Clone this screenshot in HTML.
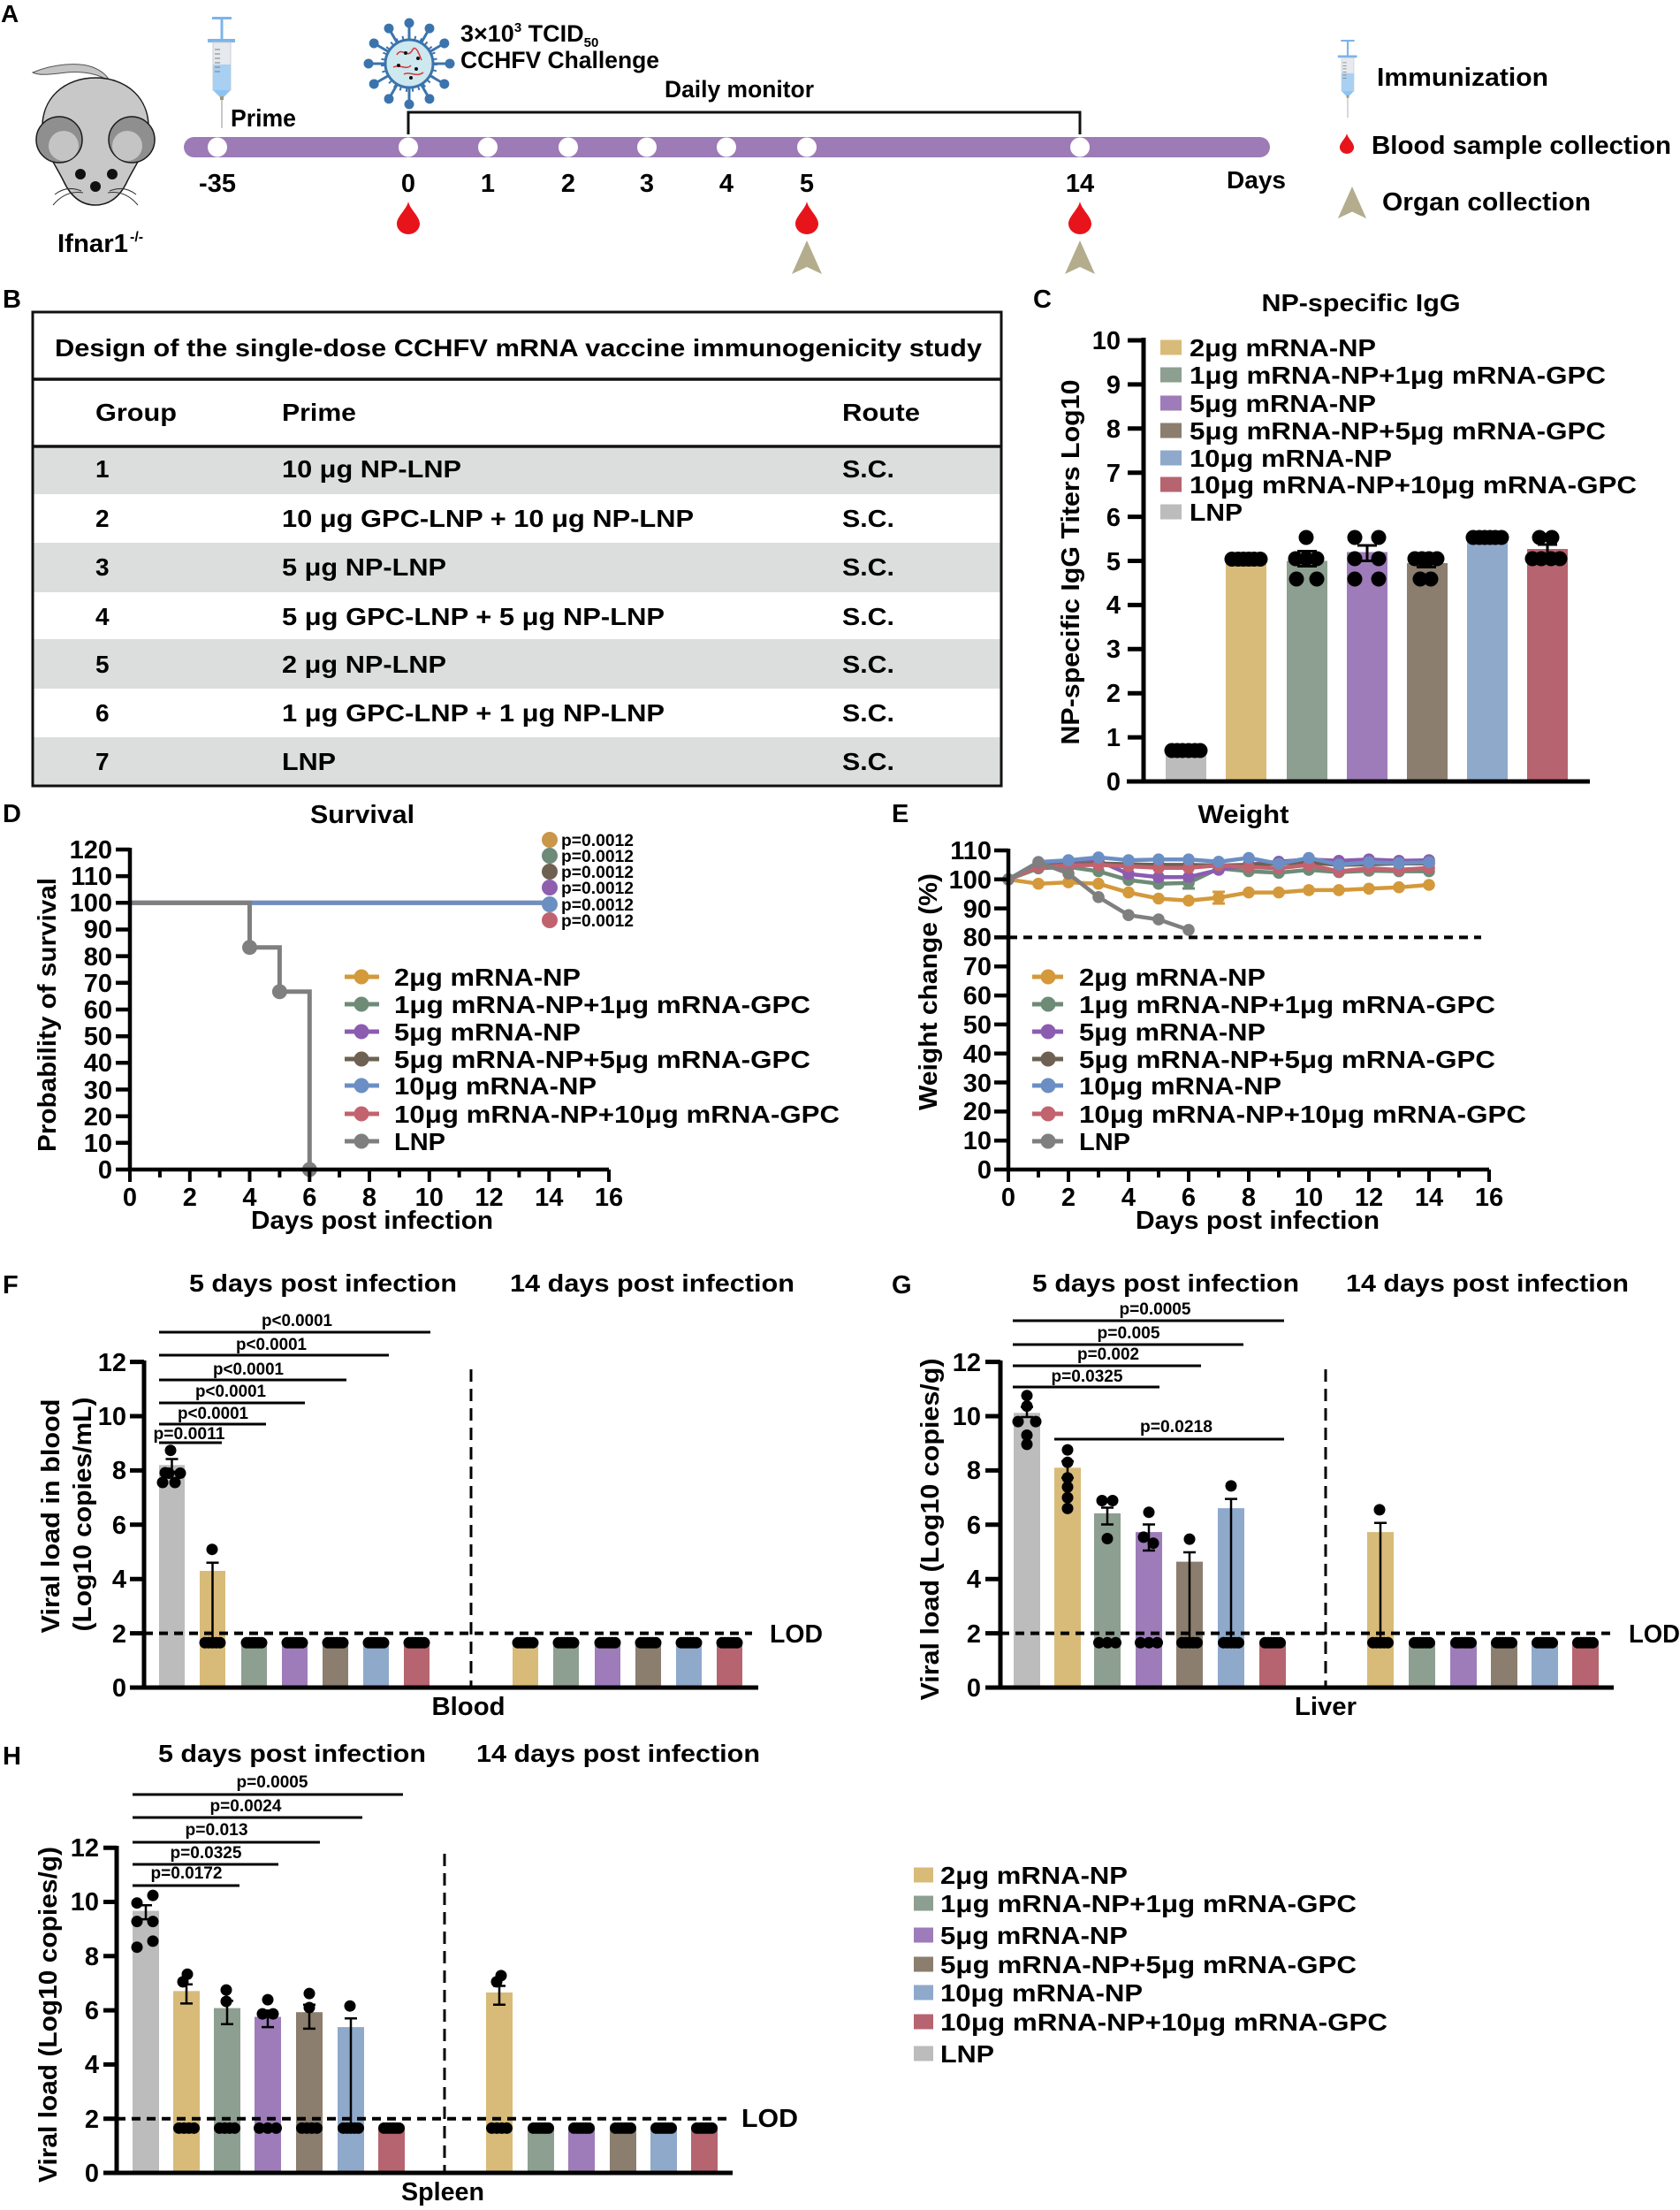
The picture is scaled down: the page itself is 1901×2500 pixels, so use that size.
<!DOCTYPE html>
<html><head><meta charset="utf-8">
<style>
html,body{margin:0;padding:0;background:#fff}
svg{display:block}
text{font-family:"Liberation Sans",Arial,sans-serif;font-weight:bold;fill:#000}
</style></head><body>
<svg width="1901" height="2500" viewBox="0 0 1901 2500" xmlns="http://www.w3.org/2000/svg">
<defs>
<g id="syr">
<rect x="240" y="19" width="22" height="3" fill="#7db4ea"/>
<rect x="249.5" y="21" width="3" height="24" fill="#7db4ea"/>
<rect x="235" y="44" width="31" height="4" fill="#7db4ea"/>
<rect x="241" y="48" width="20" height="54" fill="#e6e9ee" stroke="#c9ced6" stroke-width="1"/>
<rect x="241" y="73" width="20" height="29" fill="#a8d0f2"/>
<path d="M243 56H249M243 61H249M243 66H249M243 71H249M243 76H249M243 81H249" stroke="#7a7a7a" stroke-width="1"/>
<path d="M241 102 L261 102 L253 110 L249 110 Z" fill="#8fc3ef"/>
<rect x="249" y="109" width="4" height="4" fill="#9a9a7a"/>
<line x1="251" y1="113" x2="251" y2="145" stroke="#b5b5b5" stroke-width="1.5"/>
</g>
<g id="sp"><line x1="28" y1="0" x2="42" y2="0" stroke="#3b74ad" stroke-width="3"/><circle cx="46" cy="0" r="5.5" fill="#3b74ad"/></g>
<path id="drop" d="M0 0 C2 9 13 17 13 25 A13 12 0 0 1 -13 25 C-13 17 -2 9 0 0 Z" fill="#e8141b"/>
<path id="tri" d="M0 0 L17 38 L0 30 L-17 38 Z" fill="#b3ad8d"/>
<g id="d6"><circle cx="-8.5" r="6.5"/><circle cx="-5.1" r="6.5"/><circle cx="-1.7" r="6.5"/><circle cx="1.7" r="6.5"/><circle cx="5.1" r="6.5"/><circle cx="8.5" r="6.5"/></g>
<g id="d5"><circle cx="-8.5" r="6.5"/><circle cx="-4.25" r="6.5"/><circle cx="0" r="6.5"/><circle cx="4.25" r="6.5"/><circle cx="8.5" r="6.5"/></g>
<g id="d4"><circle cx="-8.5" r="6.5"/><circle cx="-2.8" r="6.5"/><circle cx="2.8" r="6.5"/><circle cx="8.5" r="6.5"/></g>
<g id="d3"><circle cx="-9.5" r="6.5"/><circle cx="0" r="6.5"/><circle cx="9.5" r="6.5"/></g>
<marker id="mgo" viewBox="-8 -8 16 16" markerWidth="16" markerHeight="16" markerUnits="userSpaceOnUse"><circle r="6.8" fill="#d4993a"/></marker>
<marker id="mgr" viewBox="-8 -8 16 16" markerWidth="16" markerHeight="16" markerUnits="userSpaceOnUse"><circle r="6.8" fill="#6e8b78"/></marker>
<marker id="mpu" viewBox="-8 -8 16 16" markerWidth="16" markerHeight="16" markerUnits="userSpaceOnUse"><circle r="6.8" fill="#8b5cb0"/></marker>
<marker id="mbr" viewBox="-8 -8 16 16" markerWidth="16" markerHeight="16" markerUnits="userSpaceOnUse"><circle r="6.8" fill="#6e6152"/></marker>
<marker id="mre" viewBox="-8 -8 16 16" markerWidth="16" markerHeight="16" markerUnits="userSpaceOnUse"><circle r="6.8" fill="#c2636f"/></marker>
<marker id="mbl" viewBox="-8 -8 16 16" markerWidth="16" markerHeight="16" markerUnits="userSpaceOnUse"><circle r="6.8" fill="#6b8fc4"/></marker>
<marker id="mgy" viewBox="-8 -8 16 16" markerWidth="16" markerHeight="16" markerUnits="userSpaceOnUse"><circle r="6.8" fill="#7f7f7f"/></marker>
</defs>
<rect width="1901" height="2500" fill="#fff"/>

<!-- ================= PANEL A ================= -->
<text x="1" y="25" font-size="28">A</text>
<!-- mouse -->
<path d="M37 82 C60 72 90 70 105 76 C115 80 122 86 124 92 C112 84 95 80 75 82 C58 84 45 86 37 82 Z" fill="#c4c4c4" stroke="#555" stroke-width="1"/>
<path d="M108 232 C92 232 80 222 72 205 C62 185 50 170 48 148 C46 110 74 88 108 88 C142 88 170 110 168 148 C166 170 154 185 144 205 C136 222 124 232 108 232 Z" fill="#c8c8c8" stroke="#1a1a1a" stroke-width="1.5"/>
<circle cx="67" cy="158" r="26" fill="#8f8f8f" stroke="#1a1a1a" stroke-width="1.5"/>
<circle cx="72" cy="165" r="17" fill="#c4c4c4"/>
<circle cx="149" cy="158" r="26" fill="#8f8f8f" stroke="#1a1a1a" stroke-width="1.5"/>
<circle cx="144" cy="165" r="17" fill="#c4c4c4"/>
<circle cx="91" cy="197" r="6" fill="#111"/><circle cx="127" cy="197" r="6" fill="#111"/>
<circle cx="108" cy="211" r="6" fill="#111"/>
<path d="M62 220 C72 212 82 212 92 216 M60 232 C70 220 82 216 94 218 M154 220 C144 212 134 212 124 216 M156 232 C146 220 134 216 122 218" fill="none" stroke="#333" stroke-width="1"/>
<text x="65" y="285" font-size="29" textLength="80" lengthAdjust="spacingAndGlyphs">Ifnar1</text>
<text x="147" y="273" font-size="16">-/-</text>
<!-- syringe prime -->
<use href="#syr"/>
<text x="261" y="143" font-size="28" textLength="74" lengthAdjust="spacingAndGlyphs">Prime</text>
<!-- virus -->
<g transform="translate(463 72)">
<use href="#sp"/><use href="#sp" transform="rotate(30)"/><use href="#sp" transform="rotate(60)"/><use href="#sp" transform="rotate(90)"/><use href="#sp" transform="rotate(120)"/><use href="#sp" transform="rotate(150)"/><use href="#sp" transform="rotate(180)"/><use href="#sp" transform="rotate(210)"/><use href="#sp" transform="rotate(240)"/><use href="#sp" transform="rotate(270)"/><use href="#sp" transform="rotate(300)"/><use href="#sp" transform="rotate(330)"/>
<circle r="30" fill="none" stroke="#3b74ad" stroke-width="4" stroke-dasharray="2 5"/>
<circle r="27" fill="#cde8ee" stroke="#3b74ad" stroke-width="3"/>
<path d="M-14 -10 C-8 -20 -2 -4 4 -16 C8 -22 12 -8 14 -4 M-18 4 C-10 0 -4 8 2 2 M-6 12 C0 8 8 16 16 10" fill="none" stroke="#d9323a" stroke-width="1.5"/>
<circle cx="-4" cy="-12" r="2" fill="#111"/><circle cx="10" cy="-6" r="2" fill="#111"/><circle cx="-12" cy="2" r="2" fill="#111"/><circle cx="8" cy="6" r="2" fill="#111"/><circle cx="2" cy="16" r="2" fill="#111"/>
</g>
<text x="521" y="47" font-size="27">3×10<tspan dy="-11" font-size="15">3</tspan><tspan dy="11"> TCID</tspan><tspan dy="6" font-size="15">50</tspan></text>
<text x="521" y="77" font-size="27" textLength="225" lengthAdjust="spacingAndGlyphs">CCHFV Challenge</text>
<text x="752" y="110" font-size="27" textLength="169" lengthAdjust="spacingAndGlyphs">Daily monitor</text>
<path d="M462 152 V127 H1222 V152" fill="none" stroke="#111" stroke-width="3"/>
<!-- timeline -->
<rect x="208" y="155" width="1229" height="23" rx="11.5" fill="#9d7bb6"/>
<g fill="#fff"><circle cx="246" cy="166.5" r="11"/><circle cx="462" cy="166.5" r="11"/><circle cx="552" cy="166.5" r="11"/><circle cx="643" cy="166.5" r="11"/><circle cx="732" cy="166.5" r="11"/><circle cx="822" cy="166.5" r="11"/><circle cx="913" cy="166.5" r="11"/><circle cx="1222" cy="166.5" r="11"/></g>
<g font-size="29" text-anchor="middle">
<text x="246" y="217">-35</text><text x="462" y="217">0</text><text x="552" y="217">1</text><text x="643" y="217">2</text><text x="732" y="217">3</text><text x="822" y="217">4</text><text x="913" y="217">5</text><text x="1222" y="217">14</text>
</g>
<text x="1388" y="213" font-size="28" textLength="67" lengthAdjust="spacingAndGlyphs">Days</text>
<use href="#drop" transform="translate(462 228)"/>
<use href="#drop" transform="translate(913 228)"/>
<use href="#drop" transform="translate(1222 228)"/>
<use href="#tri" transform="translate(913 272)"/>
<use href="#tri" transform="translate(1222 272)"/>
<!-- legend A -->
<use href="#syr" transform="translate(1525 45) scale(0.7) translate(-251 -19)"/>
<text x="1558" y="97" font-size="29" textLength="194" lengthAdjust="spacingAndGlyphs">Immunization</text>
<use href="#drop" transform="translate(1524 151) scale(0.62)"/>
<text x="1552" y="174" font-size="29" textLength="339" lengthAdjust="spacingAndGlyphs">Blood sample collection</text>
<use href="#tri" transform="translate(1530 211) scale(0.95)"/>
<text x="1564" y="238" font-size="29" textLength="236" lengthAdjust="spacingAndGlyphs">Organ collection</text>

<!-- ================= PANEL B ================= -->
<text x="3" y="348" font-size="29">B</text>
<rect x="38" y="507" width="1094" height="52" fill="#dcdddd"/>
<rect x="38" y="614" width="1094" height="56" fill="#dcdddd"/>
<rect x="38" y="723" width="1094" height="56" fill="#dcdddd"/>
<rect x="38" y="834" width="1094" height="54" fill="#dcdddd"/>
<rect x="37" y="353" width="1096" height="536" fill="none" stroke="#111" stroke-width="3"/>
<line x1="37" y1="429" x2="1133" y2="429" stroke="#111" stroke-width="3.5"/>
<line x1="37" y1="505" x2="1133" y2="505" stroke="#111" stroke-width="3.5"/>
<g font-size="28">
<text x="62" y="403" textLength="1049" lengthAdjust="spacingAndGlyphs">Design of the single-dose CCHFV mRNA vaccine immunogenicity study</text>
<text x="108" y="476" textLength="92" lengthAdjust="spacingAndGlyphs">Group</text>
<text x="319" y="476" textLength="84" lengthAdjust="spacingAndGlyphs">Prime</text>
<text x="953" y="476" textLength="88" lengthAdjust="spacingAndGlyphs">Route</text>
<text x="108" y="540">1</text><text x="319" y="540" textLength="203" lengthAdjust="spacingAndGlyphs">10 μg NP-LNP</text><text x="953" y="540" textLength="59" lengthAdjust="spacingAndGlyphs">S.C.</text>
<text x="108" y="596">2</text><text x="319" y="596" textLength="466" lengthAdjust="spacingAndGlyphs">10 μg GPC-LNP + 10 μg NP-LNP</text><text x="953" y="596" textLength="59" lengthAdjust="spacingAndGlyphs">S.C.</text>
<text x="108" y="651">3</text><text x="319" y="651" textLength="186" lengthAdjust="spacingAndGlyphs">5 μg NP-LNP</text><text x="953" y="651" textLength="59" lengthAdjust="spacingAndGlyphs">S.C.</text>
<text x="108" y="707">4</text><text x="319" y="707" textLength="433" lengthAdjust="spacingAndGlyphs">5 μg GPC-LNP + 5 μg NP-LNP</text><text x="953" y="707" textLength="59" lengthAdjust="spacingAndGlyphs">S.C.</text>
<text x="108" y="761">5</text><text x="319" y="761" textLength="186" lengthAdjust="spacingAndGlyphs">2 μg NP-LNP</text><text x="953" y="761" textLength="59" lengthAdjust="spacingAndGlyphs">S.C.</text>
<text x="108" y="816">6</text><text x="319" y="816" textLength="433" lengthAdjust="spacingAndGlyphs">1 μg GPC-LNP + 1 μg NP-LNP</text><text x="953" y="816" textLength="59" lengthAdjust="spacingAndGlyphs">S.C.</text>
<text x="108" y="871">7</text><text x="319" y="871" textLength="61" lengthAdjust="spacingAndGlyphs">LNP</text><text x="953" y="871" textLength="59" lengthAdjust="spacingAndGlyphs">S.C.</text>
</g>

<!-- ================= PANEL C ================= -->
<text x="1169" y="348" font-size="29">C</text>
<text x="1540" y="352" font-size="28" text-anchor="middle" textLength="225" lengthAdjust="spacingAndGlyphs">NP-specific IgG</text>
<text transform="translate(1221 636) rotate(-90)" font-size="29" text-anchor="middle" textLength="413" lengthAdjust="spacingAndGlyphs">NP-specific IgG Titers Log10</text>
<!-- bars -->
<rect x="1319" y="851.1" width="46" height="32.9" fill="#bcbcbc"/>
<rect x="1387" y="632.5" width="46" height="251.5" fill="#d8bb79"/>
<rect x="1456" y="634.5" width="46" height="249.5" fill="#8d9f90"/>
<rect x="1524" y="624.5" width="46" height="259.5" fill="#9e7cb9"/>
<rect x="1592" y="637" width="46" height="247" fill="#8b7e6e"/>
<rect x="1660" y="609.5" width="46" height="274.5" fill="#8fa9cb"/>
<rect x="1728" y="621" width="46" height="263" fill="#b6646f"/>
<path d="M1468 623.5H1490M1479 623.5V640.5M1468 640.5H1490 M1536 617H1558M1547 617V634.5M1536 634.5H1558 M1603 637H1625M1614 637V641.5M1603 641.5H1625 M1740 616H1762M1751 616V626" stroke="#000" stroke-width="3" fill="none"/>
<g fill="#000">
<circle cx="1326" cy="849" r="8.5"/><circle cx="1332" cy="849" r="8.5"/><circle cx="1338" cy="849" r="8.5"/><circle cx="1345" cy="849" r="8.5"/><circle cx="1352" cy="849" r="8.5"/><circle cx="1358" cy="849" r="8.5"/>
<circle cx="1394" cy="632.5" r="8.5"/><circle cx="1401" cy="632.5" r="8.5"/><circle cx="1407" cy="632.5" r="8.5"/><circle cx="1413" cy="632.5" r="8.5"/><circle cx="1419" cy="632.5" r="8.5"/><circle cx="1426" cy="632.5" r="8.5"/>
<circle cx="1478" cy="608" r="8.5"/><circle cx="1466" cy="632" r="8.5"/><circle cx="1478" cy="632" r="8.5"/><circle cx="1490" cy="632" r="8.5"/><circle cx="1467" cy="655" r="8.5"/><circle cx="1490" cy="655" r="8.5"/>
<circle cx="1533" cy="608" r="8.5"/><circle cx="1560" cy="608" r="8.5"/><circle cx="1533" cy="632" r="8.5"/><circle cx="1560" cy="632" r="8.5"/><circle cx="1533" cy="655" r="8.5"/><circle cx="1560" cy="655" r="8.5"/>
<circle cx="1601" cy="632" r="8.5"/><circle cx="1609" cy="632" r="8.5"/><circle cx="1617" cy="632" r="8.5"/><circle cx="1626" cy="632" r="8.5"/><circle cx="1607" cy="655" r="8.5"/><circle cx="1619" cy="655" r="8.5"/>
<circle cx="1667" cy="608" r="8.5"/><circle cx="1674" cy="608" r="8.5"/><circle cx="1680" cy="608" r="8.5"/><circle cx="1686" cy="608" r="8.5"/><circle cx="1692" cy="608" r="8.5"/><circle cx="1699" cy="608" r="8.5"/>
<circle cx="1742" cy="608" r="8.5"/><circle cx="1756" cy="608" r="8.5"/><circle cx="1734" cy="632" r="8.5"/><circle cx="1744" cy="632" r="8.5"/><circle cx="1755" cy="632" r="8.5"/><circle cx="1765" cy="632" r="8.5"/>
</g>
<!-- axes C -->
<path d="M1294 382V886 M1275 884H1799 M1276 884H1294M1276 834.1H1294M1276 784.2H1294M1276 734.3H1294M1276 684.4H1294M1276 634.5H1294M1276 584.6H1294M1276 534.7H1294M1276 484.8H1294M1276 434.9H1294M1276 385H1294" stroke="#000" stroke-width="5" fill="none"/>
<g font-size="29" text-anchor="end">
<text x="1268" y="894">0</text><text x="1268" y="844">1</text><text x="1268" y="794">2</text><text x="1268" y="744">3</text><text x="1268" y="694">4</text><text x="1268" y="645">5</text><text x="1268" y="595">6</text><text x="1268" y="545">7</text><text x="1268" y="495">8</text><text x="1268" y="445">9</text><text x="1268" y="395">10</text>
</g>
<!-- legend C -->
<rect x="1313" y="384.5" width="24" height="17" fill="#d8bb79"/>
<rect x="1313" y="415.5" width="24" height="17" fill="#8d9f90"/>
<rect x="1313" y="447.5" width="24" height="17" fill="#9e7cb9"/>
<rect x="1313" y="478.5" width="24" height="17" fill="#8b7e6e"/>
<rect x="1313" y="509.5" width="24" height="17" fill="#8fa9cb"/>
<rect x="1313" y="539.5" width="24" height="17" fill="#b6646f"/>
<rect x="1313" y="570.5" width="24" height="17" fill="#bcbcbc"/>
<g font-size="28">
<text x="1346" y="403" textLength="211" lengthAdjust="spacingAndGlyphs">2μg mRNA-NP</text>
<text x="1346" y="434" textLength="471" lengthAdjust="spacingAndGlyphs">1μg mRNA-NP+1μg mRNA-GPC</text>
<text x="1346" y="466" textLength="211" lengthAdjust="spacingAndGlyphs">5μg mRNA-NP</text>
<text x="1346" y="497" textLength="471" lengthAdjust="spacingAndGlyphs">5μg mRNA-NP+5μg mRNA-GPC</text>
<text x="1346" y="528" textLength="229" lengthAdjust="spacingAndGlyphs">10μg mRNA-NP</text>
<text x="1346" y="558" textLength="506" lengthAdjust="spacingAndGlyphs">10μg mRNA-NP+10μg mRNA-GPC</text>
<text x="1346" y="589" textLength="60" lengthAdjust="spacingAndGlyphs">LNP</text>
</g>

<!-- ================= PANEL D ================= -->
<text x="3" y="930" font-size="29">D</text>
<text x="410" y="931" font-size="29" text-anchor="middle" textLength="118" lengthAdjust="spacingAndGlyphs">Survival</text>
<text transform="translate(63 1148) rotate(-90)" font-size="29" text-anchor="middle" textLength="310" lengthAdjust="spacingAndGlyphs">Probability of survival</text>
<path d="M147 1021.3H621.3" stroke="#c2636f" stroke-width="5"/>
<path d="M147 1021.3H621.3" stroke="#6b8fc4" stroke-width="5"/>
<path d="M147 1021.3H282.5V1071.7H316.4V1121.8H350.3V1323" stroke="#7f7f7f" stroke-width="5" fill="none"/>
<g fill="#7f7f7f"><circle cx="282.5" cy="1071.7" r="8.5"/><circle cx="316.4" cy="1121.8" r="8.5"/><circle cx="350.3" cy="1323" r="8.5"/></g>
<circle cx="622" cy="950" r="9" fill="#c9964a"/>
<circle cx="622" cy="968" r="9" fill="#6e8a78"/>
<circle cx="622" cy="986" r="9" fill="#6e6152"/>
<circle cx="622" cy="1004" r="9" fill="#8d5fad"/>
<circle cx="622" cy="1023" r="9" fill="#6b8fc0"/>
<circle cx="622" cy="1041" r="9" fill="#c0636f"/>
<g font-size="19">
<text x="635" y="957" textLength="82" lengthAdjust="spacingAndGlyphs">p=0.0012</text>
<text x="635" y="975" textLength="82" lengthAdjust="spacingAndGlyphs">p=0.0012</text>
<text x="635" y="993" textLength="82" lengthAdjust="spacingAndGlyphs">p=0.0012</text>
<text x="635" y="1011" textLength="82" lengthAdjust="spacingAndGlyphs">p=0.0012</text>
<text x="635" y="1030" textLength="82" lengthAdjust="spacingAndGlyphs">p=0.0012</text>
<text x="635" y="1048" textLength="82" lengthAdjust="spacingAndGlyphs">p=0.0012</text>
</g>
<!-- axes D -->
<path d="M147 959V1325 M145 1323H689 M131 1323H147M131 1292.8H147M131 1262.7H147M131 1232.5H147M131 1202.3H147M131 1172.2H147M131 1142H147M131 1111.8H147M131 1081.6H147M131 1051.5H147M131 1021.3H147M131 991.1H147M131 961H147" stroke="#000" stroke-width="4.5" fill="none"/>
<path d="M147 1323V1337M214.8 1323V1337M282.5 1323V1337M350.3 1323V1337M418 1323V1337M485.8 1323V1337M553.5 1323V1337M621.3 1323V1337M689 1323V1337 M180.9 1323V1332M248.6 1323V1332M316.4 1323V1332M384.1 1323V1332M451.9 1323V1332M519.6 1323V1332M587.4 1323V1332M655.1 1323V1332" stroke="#000" stroke-width="4" fill="none"/>
<g font-size="29" text-anchor="end">
<text x="127" y="1333">0</text><text x="127" y="1303">10</text><text x="127" y="1273">20</text><text x="127" y="1243">30</text><text x="127" y="1212">40</text><text x="127" y="1182">50</text><text x="127" y="1152">60</text><text x="127" y="1122">70</text><text x="127" y="1092">80</text><text x="127" y="1061">90</text><text x="127" y="1031">100</text><text x="127" y="1001">110</text><text x="127" y="971">120</text>
</g>
<g font-size="29" text-anchor="middle">
<text x="147" y="1364">0</text><text x="214.8" y="1364">2</text><text x="282.5" y="1364">4</text><text x="350.3" y="1364">6</text><text x="418" y="1364">8</text><text x="485.8" y="1364">10</text><text x="553.5" y="1364">12</text><text x="621.3" y="1364">14</text><text x="689" y="1364">16</text>
</g>
<text x="421" y="1390" font-size="29" text-anchor="middle" textLength="274" lengthAdjust="spacingAndGlyphs">Days post infection</text>
<!-- legend D -->
<g stroke-width="5">
<line x1="390" y1="1105" x2="429" y2="1105" stroke="#d4993a"/><line x1="390" y1="1136" x2="429" y2="1136" stroke="#6e8b78"/><line x1="390" y1="1167" x2="429" y2="1167" stroke="#8b5cb0"/><line x1="390" y1="1198" x2="429" y2="1198" stroke="#6e6152"/><line x1="390" y1="1228" x2="429" y2="1228" stroke="#6b8fc4"/><line x1="390" y1="1260" x2="429" y2="1260" stroke="#c2636f"/><line x1="390" y1="1291" x2="429" y2="1291" stroke="#7f7f7f"/>
</g>
<circle cx="409" cy="1105" r="8.5" fill="#d4993a"/><circle cx="409" cy="1136" r="8.5" fill="#6e8b78"/><circle cx="409" cy="1167" r="8.5" fill="#8b5cb0"/><circle cx="409" cy="1198" r="8.5" fill="#6e6152"/><circle cx="409" cy="1228" r="8.5" fill="#6b8fc4"/><circle cx="409" cy="1260" r="8.5" fill="#c2636f"/><circle cx="409" cy="1291" r="8.5" fill="#7f7f7f"/>
<g font-size="28">
<text x="446" y="1115" textLength="211" lengthAdjust="spacingAndGlyphs">2μg mRNA-NP</text>
<text x="446" y="1146" textLength="471" lengthAdjust="spacingAndGlyphs">1μg mRNA-NP+1μg mRNA-GPC</text>
<text x="446" y="1177" textLength="211" lengthAdjust="spacingAndGlyphs">5μg mRNA-NP</text>
<text x="446" y="1208" textLength="471" lengthAdjust="spacingAndGlyphs">5μg mRNA-NP+5μg mRNA-GPC</text>
<text x="446" y="1238" textLength="229" lengthAdjust="spacingAndGlyphs">10μg mRNA-NP</text>
<text x="446" y="1270" textLength="504" lengthAdjust="spacingAndGlyphs">10μg mRNA-NP+10μg mRNA-GPC</text>
<text x="446" y="1301" textLength="58" lengthAdjust="spacingAndGlyphs">LNP</text>
</g>

<!-- ================= PANEL E ================= -->
<text x="1009" y="930" font-size="29">E</text>
<text x="1407" y="931" font-size="29" text-anchor="middle" textLength="103" lengthAdjust="spacingAndGlyphs">Weight</text>
<text transform="translate(1060 1122) rotate(-90)" font-size="29" text-anchor="middle" textLength="268" lengthAdjust="spacingAndGlyphs">Weight change (%)</text>
<line x1="1141" y1="1060.4" x2="1676" y2="1060.4" stroke="#000" stroke-width="4" stroke-dasharray="10 7"/>
<g fill="none" stroke-width="4.5" stroke-linejoin="round">
<polyline stroke="#d4993a" marker-start="url(#mgo)" marker-mid="url(#mgo)" marker-end="url(#mgo)" points="1141,994.8 1175,999.7 1209,998.1 1243,999.7 1277,1009.6 1311,1016.5 1345,1018.8 1379,1015.5 1413,1009.6 1447,1009.6 1481,1006.9 1515,1006.9 1549,1005.3 1583,1003.7 1617,1001"/>
<polyline stroke="#6e8b78" marker-start="url(#mgr)" marker-mid="url(#mgr)" marker-end="url(#mgr)" points="1141,994.8 1175,982.3 1209,980.7 1243,985.6 1277,995.5 1311,999.7 1345,998.7 1379,982.3 1413,985.6 1447,987.3 1481,984 1515,986.6 1549,985 1583,985.6 1617,985.6"/>
<polyline stroke="#8b5cb0" marker-start="url(#mpu)" marker-mid="url(#mpu)" marker-end="url(#mpu)" points="1141,994.8 1175,978.4 1209,975.8 1243,973.8 1277,988.6 1311,992.2 1345,992.2 1379,984 1413,978.1 1447,974.8 1481,972.2 1515,973.8 1549,972.2 1583,973.8 1617,973.1"/>
<polyline stroke="#6e6152" marker-start="url(#mbr)" marker-mid="url(#mbr)" marker-end="url(#mbr)" points="1141,994.8 1175,980 1209,978.4 1243,976.7 1277,977.7 1311,978.4 1345,978.4 1379,979 1413,978.4 1447,976.7 1481,975.8 1515,978.4 1549,977.7 1583,976.7 1617,976.7"/>
<polyline stroke="#c2636f" marker-start="url(#mre)" marker-mid="url(#mre)" marker-end="url(#mre)" points="1141,994.8 1175,980.7 1209,979 1243,978.4 1277,980 1311,981.7 1345,981.7 1379,979 1413,980.7 1447,982.3 1481,978.4 1515,985.6 1549,982.3 1583,984 1617,981.7"/>
<polyline stroke="#6b8fc4" marker-start="url(#mbl)" marker-mid="url(#mbl)" marker-end="url(#mbl)" points="1141,994.8 1175,975.1 1209,973.1 1243,969.9 1277,973.1 1311,972.2 1345,972.2 1379,974.8 1413,970.5 1447,977.1 1481,970.5 1515,978.1 1549,975.4 1583,976.4 1617,975.4"/>
<polyline stroke="#7f7f7f" marker-start="url(#mgy)" marker-mid="url(#mgy)" marker-end="url(#mgy)" points="1141,994.8 1175,975.4 1209,988.2 1243,1014.8 1277,1035.2 1311,1040.1 1345,1051.9"/>
</g>
<path d="M1372 1009H1386M1379 1009V1022M1372 1022H1386" stroke="#d4993a" stroke-width="3" fill="none"/>
<path d="M1338 1005H1352M1345 998V1005" stroke="#6e8b78" stroke-width="3" fill="none"/>
<!-- axes E -->
<path d="M1141 960V1325 M1139 1323H1685 M1125 1323H1141M1125 1290.2H1141M1125 1257.4H1141M1125 1224.5H1141M1125 1191.7H1141M1125 1158.9H1141M1125 1126.1H1141M1125 1093.3H1141M1125 1060.4H1141M1125 1027.6H1141M1125 994.8H1141M1125 962H1141" stroke="#000" stroke-width="4.5" fill="none"/>
<path d="M1141 1323V1337M1209 1323V1337M1277 1323V1337M1345 1323V1337M1413 1323V1337M1481 1323V1337M1549 1323V1337M1617 1323V1337M1685 1323V1337 M1175 1323V1332M1243 1323V1332M1311 1323V1332M1379 1323V1332M1447 1323V1332M1515 1323V1332M1583 1323V1332M1651 1323V1332" stroke="#000" stroke-width="4" fill="none"/>
<g font-size="29" text-anchor="end">
<text x="1122" y="1333">0</text><text x="1122" y="1300">10</text><text x="1122" y="1267">20</text><text x="1122" y="1235">30</text><text x="1122" y="1202">40</text><text x="1122" y="1169">50</text><text x="1122" y="1136">60</text><text x="1122" y="1103">70</text><text x="1122" y="1070">80</text><text x="1122" y="1038">90</text><text x="1122" y="1005">100</text><text x="1122" y="972">110</text>
</g>
<g font-size="29" text-anchor="middle">
<text x="1141" y="1364">0</text><text x="1209" y="1364">2</text><text x="1277" y="1364">4</text><text x="1345" y="1364">6</text><text x="1413" y="1364">8</text><text x="1481" y="1364">10</text><text x="1549" y="1364">12</text><text x="1617" y="1364">14</text><text x="1685" y="1364">16</text>
</g>
<text x="1423" y="1390" font-size="29" text-anchor="middle" textLength="276" lengthAdjust="spacingAndGlyphs">Days post infection</text>
<!-- legend E -->
<g stroke-width="5">
<line x1="1168" y1="1105" x2="1203" y2="1105" stroke="#d4993a"/><line x1="1168" y1="1136" x2="1203" y2="1136" stroke="#6e8b78"/><line x1="1168" y1="1167" x2="1203" y2="1167" stroke="#8b5cb0"/><line x1="1168" y1="1198" x2="1203" y2="1198" stroke="#6e6152"/><line x1="1168" y1="1228" x2="1203" y2="1228" stroke="#6b8fc4"/><line x1="1168" y1="1260" x2="1203" y2="1260" stroke="#c2636f"/><line x1="1168" y1="1291" x2="1203" y2="1291" stroke="#7f7f7f"/>
</g>
<circle cx="1186" cy="1105" r="8.5" fill="#d4993a"/><circle cx="1186" cy="1136" r="8.5" fill="#6e8b78"/><circle cx="1186" cy="1167" r="8.5" fill="#8b5cb0"/><circle cx="1186" cy="1198" r="8.5" fill="#6e6152"/><circle cx="1186" cy="1228" r="8.5" fill="#6b8fc4"/><circle cx="1186" cy="1260" r="8.5" fill="#c2636f"/><circle cx="1186" cy="1291" r="8.5" fill="#7f7f7f"/>
<g font-size="28">
<text x="1221" y="1115" textLength="211" lengthAdjust="spacingAndGlyphs">2μg mRNA-NP</text>
<text x="1221" y="1146" textLength="471" lengthAdjust="spacingAndGlyphs">1μg mRNA-NP+1μg mRNA-GPC</text>
<text x="1221" y="1177" textLength="211" lengthAdjust="spacingAndGlyphs">5μg mRNA-NP</text>
<text x="1221" y="1208" textLength="471" lengthAdjust="spacingAndGlyphs">5μg mRNA-NP+5μg mRNA-GPC</text>
<text x="1221" y="1238" textLength="229" lengthAdjust="spacingAndGlyphs">10μg mRNA-NP</text>
<text x="1221" y="1270" textLength="506" lengthAdjust="spacingAndGlyphs">10μg mRNA-NP+10μg mRNA-GPC</text>
<text x="1221" y="1301" textLength="58" lengthAdjust="spacingAndGlyphs">LNP</text>
</g>

<!-- ================= PANEL F ================= -->
<text x="3" y="1463" font-size="29">F</text>
<text x="214" y="1461" font-size="28" textLength="303" lengthAdjust="spacingAndGlyphs">5 days post infection</text>
<text x="577" y="1461" font-size="28" textLength="322" lengthAdjust="spacingAndGlyphs">14 days post infection</text>
<text transform="translate(67 1715) rotate(-90)" font-size="29" text-anchor="middle" textLength="265" lengthAdjust="spacingAndGlyphs">Viral load in blood</text>
<text transform="translate(103 1713) rotate(-90)" font-size="29" text-anchor="middle" textLength="265" lengthAdjust="spacingAndGlyphs">(Log10 copies/mL)</text>
<rect x="180" y="1657.3" width="29" height="251.7" fill="#bcbcbc"/>
<rect x="226" y="1777" width="29" height="132" fill="#d8bb79"/>
<rect x="273" y="1858.3" width="29" height="50.7" fill="#8d9f90"/>
<rect x="319" y="1858.3" width="29" height="50.7" fill="#9e7cb9"/>
<rect x="365" y="1858.3" width="29" height="50.7" fill="#8b7e6e"/>
<rect x="411" y="1858.3" width="29" height="50.7" fill="#8fa9cb"/>
<rect x="457" y="1858.3" width="29" height="50.7" fill="#b6646f"/>
<rect x="580" y="1858.3" width="29" height="50.7" fill="#d8bb79"/>
<rect x="626" y="1858.3" width="29" height="50.7" fill="#8d9f90"/>
<rect x="673" y="1858.3" width="29" height="50.7" fill="#9e7cb9"/>
<rect x="719" y="1858.3" width="29" height="50.7" fill="#8b7e6e"/>
<rect x="765" y="1858.3" width="29" height="50.7" fill="#8fa9cb"/>
<rect x="811" y="1858.3" width="29" height="50.7" fill="#b6646f"/>
<path d="M187.5 1650.5H201.5M194.5 1650.5V1665M187.5 1665H201.5 M233.5 1767.8H247.5M240.5 1767.8V1858" stroke="#000" stroke-width="2.5" fill="none"/>
<line x1="163" y1="1847.6" x2="851" y2="1847.6" stroke="#000" stroke-width="4" stroke-dasharray="10 7"/>
<line x1="533" y1="1549" x2="533" y2="1909" stroke="#000" stroke-width="3" stroke-dasharray="14 8"/>
<g fill="#000">
<circle cx="193" cy="1640.7" r="6.5"/><circle cx="191" cy="1666.5" r="6.5"/><circle cx="204" cy="1666.5" r="6.5"/><circle cx="184" cy="1677" r="6.5"/><circle cx="198" cy="1677" r="6.5"/><circle cx="187" cy="1666" r="6.5"/>
<circle cx="240" cy="1752.7" r="6.5"/>
<use href="#d5" x="240.5" y="1858.3"/><use href="#d6" x="287.5" y="1858.3"/><use href="#d6" x="333.5" y="1858.3"/><use href="#d6" x="379.5" y="1858.3"/><use href="#d6" x="425.5" y="1858.3"/><use href="#d6" x="471.5" y="1858.3"/>
<use href="#d6" x="594.5" y="1858.3"/><use href="#d6" x="640.5" y="1858.3"/><use href="#d6" x="687.5" y="1858.3"/><use href="#d6" x="733.5" y="1858.3"/><use href="#d6" x="779.5" y="1858.3"/><use href="#d6" x="825.5" y="1858.3"/>
</g>
<path d="M180 1632H251 M180 1611H301 M180 1587H345 M180 1561H392 M180 1533H440 M180 1507H487" stroke="#000" stroke-width="3"/>
<g font-size="19" text-anchor="middle">
<text x="214" y="1628" textLength="81" lengthAdjust="spacingAndGlyphs">p=0.0011</text>
<text x="241" y="1605" textLength="80" lengthAdjust="spacingAndGlyphs">p&lt;0.0001</text>
<text x="261" y="1580" textLength="80" lengthAdjust="spacingAndGlyphs">p&lt;0.0001</text>
<text x="281" y="1555" textLength="80" lengthAdjust="spacingAndGlyphs">p&lt;0.0001</text>
<text x="307" y="1527" textLength="80" lengthAdjust="spacingAndGlyphs">p&lt;0.0001</text>
<text x="336" y="1500" textLength="80" lengthAdjust="spacingAndGlyphs">p&lt;0.0001</text>
</g>
<path d="M163 1539V1911 M147 1909H858 M147 1909H163M147 1847.6H163M147 1786.2H163M147 1724.8H163M147 1663.4H163M147 1602H163M147 1540.6H163" stroke="#000" stroke-width="5" fill="none"/>
<g font-size="29" text-anchor="end">
<text x="143" y="1919">0</text><text x="143" y="1858">2</text><text x="143" y="1796">4</text><text x="143" y="1735">6</text><text x="143" y="1673">8</text><text x="143" y="1612">10</text><text x="143" y="1551">12</text>
</g>
<text x="871" y="1858" font-size="29" textLength="60" lengthAdjust="spacingAndGlyphs">LOD</text>
<text x="530" y="1940" font-size="29" text-anchor="middle" textLength="83" lengthAdjust="spacingAndGlyphs">Blood</text>

<!-- ================= PANEL G ================= -->
<text x="1009" y="1463" font-size="29">G</text>
<text x="1168" y="1461" font-size="28" textLength="302" lengthAdjust="spacingAndGlyphs">5 days post infection</text>
<text x="1523" y="1461" font-size="28" textLength="320" lengthAdjust="spacingAndGlyphs">14 days post infection</text>
<text transform="translate(1062 1730) rotate(-90)" font-size="29" text-anchor="middle" textLength="387" lengthAdjust="spacingAndGlyphs">Viral load (Log10 copies/g)</text>
<rect x="1147" y="1598.3" width="30" height="310.7" fill="#bcbcbc"/>
<rect x="1193" y="1660.3" width="30" height="248.7" fill="#d8bb79"/>
<rect x="1238" y="1711.9" width="30" height="197.1" fill="#8d9f90"/>
<rect x="1285" y="1733.1" width="30" height="175.9" fill="#9e7cb9"/>
<rect x="1331" y="1766.6" width="30" height="142.4" fill="#8b7e6e"/>
<rect x="1378" y="1706.1" width="30" height="202.9" fill="#8fa9cb"/>
<rect x="1425" y="1858.3" width="30" height="50.7" fill="#b6646f"/>
<rect x="1547" y="1733.1" width="30" height="175.9" fill="#d8bb79"/>
<rect x="1594" y="1858.3" width="30" height="50.7" fill="#8d9f90"/>
<rect x="1641" y="1858.3" width="30" height="50.7" fill="#9e7cb9"/>
<rect x="1687" y="1858.3" width="30" height="50.7" fill="#8b7e6e"/>
<rect x="1733" y="1858.3" width="30" height="50.7" fill="#8fa9cb"/>
<rect x="1779" y="1858.3" width="30" height="50.7" fill="#b6646f"/>
<path d="M1155 1591.6H1169M1162 1591.6V1603M1155 1603H1169 M1201 1653H1215M1208 1653V1671.7M1201 1671.7H1215 M1246 1705.5H1260M1253 1705.5V1724.5M1246 1724.5H1260 M1293 1724.5H1307M1300 1724.5V1754M1293 1754H1307 M1339 1756H1353M1346 1756V1858 M1386 1695.6H1400M1393 1695.6V1858 M1555 1722.7H1569M1562 1722.7V1858" stroke="#000" stroke-width="2.5" fill="none"/>
<line x1="1132" y1="1847.6" x2="1826" y2="1847.6" stroke="#000" stroke-width="4" stroke-dasharray="10 7"/>
<line x1="1500" y1="1549" x2="1500" y2="1909" stroke="#000" stroke-width="3" stroke-dasharray="14 8"/>
<g fill="#000">
<circle cx="1162" cy="1578.7" r="6.5"/><circle cx="1162" cy="1590.6" r="6.5"/><circle cx="1152" cy="1608.1" r="6.5"/><circle cx="1172" cy="1608.1" r="6.5"/><circle cx="1162" cy="1623.5" r="6.5"/><circle cx="1162" cy="1633.9" r="6.5"/>
<circle cx="1208" cy="1640.1" r="6.5"/><circle cx="1208" cy="1654.2" r="6.5"/><circle cx="1208" cy="1671.7" r="6.5"/><circle cx="1208" cy="1682.1" r="6.5"/><circle cx="1208" cy="1694.1" r="6.5"/><circle cx="1208" cy="1706.4" r="6.5"/>
<circle cx="1247" cy="1697.5" r="6.5"/><circle cx="1259" cy="1697.5" r="6.5"/><circle cx="1253" cy="1740.5" r="6.5"/>
<circle cx="1300" cy="1710.7" r="6.5"/><circle cx="1294" cy="1738.9" r="6.5"/><circle cx="1305" cy="1745.7" r="6.5"/>
<circle cx="1346" cy="1741.1" r="6.5"/>
<circle cx="1393" cy="1680.9" r="6.5"/>
<circle cx="1561" cy="1707.9" r="6.5"/>
<use href="#d3" x="1253" y="1858.3"/><use href="#d3" x="1300" y="1858.3"/><use href="#d5" x="1346" y="1858.3"/><use href="#d5" x="1393" y="1858.3"/><use href="#d6" x="1440" y="1858.3"/>
<use href="#d5" x="1562" y="1858.3"/><use href="#d6" x="1609" y="1858.3"/><use href="#d6" x="1656" y="1858.3"/><use href="#d6" x="1702" y="1858.3"/><use href="#d6" x="1748" y="1858.3"/><use href="#d6" x="1794" y="1858.3"/>
</g>
<path d="M1146 1569H1312 M1146 1545H1359 M1146 1521H1407 M1146 1494H1453 M1193 1628H1453" stroke="#000" stroke-width="3"/>
<g font-size="19" text-anchor="middle">
<text x="1230" y="1563" textLength="81" lengthAdjust="spacingAndGlyphs">p=0.0325</text>
<text x="1254" y="1538" textLength="70" lengthAdjust="spacingAndGlyphs">p=0.002</text>
<text x="1277" y="1514" textLength="71" lengthAdjust="spacingAndGlyphs">p=0.005</text>
<text x="1307" y="1487" textLength="81" lengthAdjust="spacingAndGlyphs">p=0.0005</text>
<text x="1331" y="1620" textLength="82" lengthAdjust="spacingAndGlyphs">p=0.0218</text>
</g>
<path d="M1132 1539V1911 M1115 1909H1826 M1115 1909H1132M1115 1847.6H1132M1115 1786.2H1132M1115 1724.8H1132M1115 1663.4H1132M1115 1602H1132M1115 1540.6H1132" stroke="#000" stroke-width="5" fill="none"/>
<g font-size="29" text-anchor="end">
<text x="1110" y="1919">0</text><text x="1110" y="1858">2</text><text x="1110" y="1796">4</text><text x="1110" y="1735">6</text><text x="1110" y="1673">8</text><text x="1110" y="1612">10</text><text x="1110" y="1551">12</text>
</g>
<text x="1843" y="1858" font-size="29" textLength="58" lengthAdjust="spacingAndGlyphs">LOD</text>
<text x="1500" y="1940" font-size="29" text-anchor="middle" textLength="70" lengthAdjust="spacingAndGlyphs">Liver</text>

<!-- ================= PANEL H ================= -->
<text x="3" y="1996" font-size="29">H</text>
<text x="179" y="1993" font-size="28" textLength="303" lengthAdjust="spacingAndGlyphs">5 days post infection</text>
<text x="539" y="1993" font-size="28" textLength="321" lengthAdjust="spacingAndGlyphs">14 days post infection</text>
<text transform="translate(64 2279) rotate(-90)" font-size="29" text-anchor="middle" textLength="380" lengthAdjust="spacingAndGlyphs">Viral load (Log10 copies/g)</text>
<rect x="150" y="2161.6" width="30" height="296.4" fill="#bcbcbc"/>
<rect x="196" y="2252.3" width="30" height="205.7" fill="#d8bb79"/>
<rect x="242" y="2271.6" width="30" height="186.4" fill="#8d9f90"/>
<rect x="288" y="2281.5" width="30" height="176.5" fill="#9e7cb9"/>
<rect x="335" y="2276.2" width="30" height="181.8" fill="#8b7e6e"/>
<rect x="382" y="2293.1" width="30" height="164.9" fill="#8fa9cb"/>
<rect x="428" y="2407.4" width="30" height="50.6" fill="#b6646f"/>
<rect x="550" y="2253.9" width="30" height="204.1" fill="#d8bb79"/>
<rect x="597" y="2407.4" width="30" height="50.6" fill="#8d9f90"/>
<rect x="643" y="2407.4" width="30" height="50.6" fill="#9e7cb9"/>
<rect x="690" y="2407.4" width="30" height="50.6" fill="#8b7e6e"/>
<rect x="736" y="2407.4" width="30" height="50.6" fill="#8fa9cb"/>
<rect x="782" y="2407.4" width="30" height="50.6" fill="#b6646f"/>
<path d="M158 2155.2H172M165 2155.2V2171.1M158 2171.1H172 M204 2244.7H218M211 2244.7V2266.4M204 2266.4H218 M250 2263.4H264M257 2263.4V2289.7M250 2289.7H264 M296 2274.4H310M303 2274.4V2293.1M296 2293.1H310 M343 2267.7H357M350 2267.7V2294.9M343 2294.9H357 M390 2283.3H404M397 2283.3V2407 M558 2246.5H572M565 2246.5V2267.7M558 2267.7H572" stroke="#000" stroke-width="2.5" fill="none"/>
<line x1="132" y1="2396.7" x2="824" y2="2396.7" stroke="#000" stroke-width="4" stroke-dasharray="10 7"/>
<line x1="503" y1="2097" x2="503" y2="2458" stroke="#000" stroke-width="3" stroke-dasharray="14 8"/>
<g fill="#000">
<circle cx="173" cy="2144.1" r="6.5"/><circle cx="155" cy="2152.7" r="6.5"/><circle cx="155" cy="2173.6" r="6.5"/><circle cx="173" cy="2173.6" r="6.5"/><circle cx="173" cy="2195.9" r="6.5"/><circle cx="155" cy="2202.7" r="6.5"/>
<circle cx="212" cy="2233.3" r="6.5"/><circle cx="207" cy="2241.9" r="6.5"/>
<circle cx="256" cy="2251.1" r="6.5"/><circle cx="256" cy="2264" r="6.5"/>
<circle cx="303" cy="2262.1" r="6.5"/><circle cx="297" cy="2278.1" r="6.5"/><circle cx="309" cy="2278.1" r="6.5"/>
<circle cx="350" cy="2255.1" r="6.5"/><circle cx="350" cy="2271" r="6.5"/>
<circle cx="396" cy="2269.2" r="6.5"/>
<circle cx="567" cy="2234.9" r="6.5"/><circle cx="562" cy="2241.9" r="6.5"/>
<use href="#d4" x="211" y="2407.4"/><use href="#d4" x="257" y="2407.4"/><use href="#d3" x="303" y="2407.4"/><use href="#d4" x="350" y="2407.4"/><use href="#d5" x="397" y="2407.4"/><use href="#d6" x="443" y="2407.4"/>
<use href="#d4" x="565" y="2407.4"/><use href="#d6" x="612" y="2407.4"/><use href="#d6" x="658" y="2407.4"/><use href="#d6" x="705" y="2407.4"/><use href="#d6" x="751" y="2407.4"/><use href="#d6" x="797" y="2407.4"/>
</g>
<path d="M150 2133H271 M150 2109H315 M150 2084H362 M150 2056H410 M150 2030H456" stroke="#000" stroke-width="3"/>
<g font-size="19" text-anchor="middle">
<text x="211" y="2125" textLength="81" lengthAdjust="spacingAndGlyphs">p=0.0172</text>
<text x="233" y="2102" textLength="81" lengthAdjust="spacingAndGlyphs">p=0.0325</text>
<text x="245" y="2076" textLength="71" lengthAdjust="spacingAndGlyphs">p=0.013</text>
<text x="278" y="2049" textLength="81" lengthAdjust="spacingAndGlyphs">p=0.0024</text>
<text x="308" y="2022" textLength="81" lengthAdjust="spacingAndGlyphs">p=0.0005</text>
</g>
<path d="M132 2088V2460 M117 2458H829 M117 2458H132M117 2396.7H132M117 2335.4H132M117 2274.1H132M117 2212.8H132M117 2151.5H132M117 2090.2H132" stroke="#000" stroke-width="5" fill="none"/>
<g font-size="29" text-anchor="end">
<text x="112" y="2468">0</text><text x="112" y="2407">2</text><text x="112" y="2345">4</text><text x="112" y="2284">6</text><text x="112" y="2223">8</text><text x="112" y="2161">10</text><text x="112" y="2100">12</text>
</g>
<text x="839" y="2406" font-size="29" textLength="64" lengthAdjust="spacingAndGlyphs">LOD</text>
<text x="501" y="2489" font-size="29" text-anchor="middle" textLength="94" lengthAdjust="spacingAndGlyphs">Spleen</text>
<!-- legend H -->
<rect x="1034" y="2112.5" width="22" height="17" fill="#d8bb79"/>
<rect x="1034" y="2144.5" width="22" height="17" fill="#8d9f90"/>
<rect x="1034" y="2180.5" width="22" height="17" fill="#9e7cb9"/>
<rect x="1034" y="2213.5" width="22" height="17" fill="#8b7e6e"/>
<rect x="1034" y="2245.5" width="22" height="17" fill="#8fa9cb"/>
<rect x="1034" y="2278.5" width="22" height="17" fill="#b6646f"/>
<rect x="1034" y="2314.5" width="22" height="17" fill="#bcbcbc"/>
<g font-size="28">
<text x="1064" y="2131" textLength="212" lengthAdjust="spacingAndGlyphs">2μg mRNA-NP</text>
<text x="1064" y="2163" textLength="471" lengthAdjust="spacingAndGlyphs">1μg mRNA-NP+1μg mRNA-GPC</text>
<text x="1064" y="2199" textLength="212" lengthAdjust="spacingAndGlyphs">5μg mRNA-NP</text>
<text x="1064" y="2232" textLength="471" lengthAdjust="spacingAndGlyphs">5μg mRNA-NP+5μg mRNA-GPC</text>
<text x="1064" y="2264" textLength="229" lengthAdjust="spacingAndGlyphs">10μg mRNA-NP</text>
<text x="1064" y="2297" textLength="506" lengthAdjust="spacingAndGlyphs">10μg mRNA-NP+10μg mRNA-GPC</text>
<text x="1064" y="2333" textLength="61" lengthAdjust="spacingAndGlyphs">LNP</text>
</g>
</svg>
</body></html>
